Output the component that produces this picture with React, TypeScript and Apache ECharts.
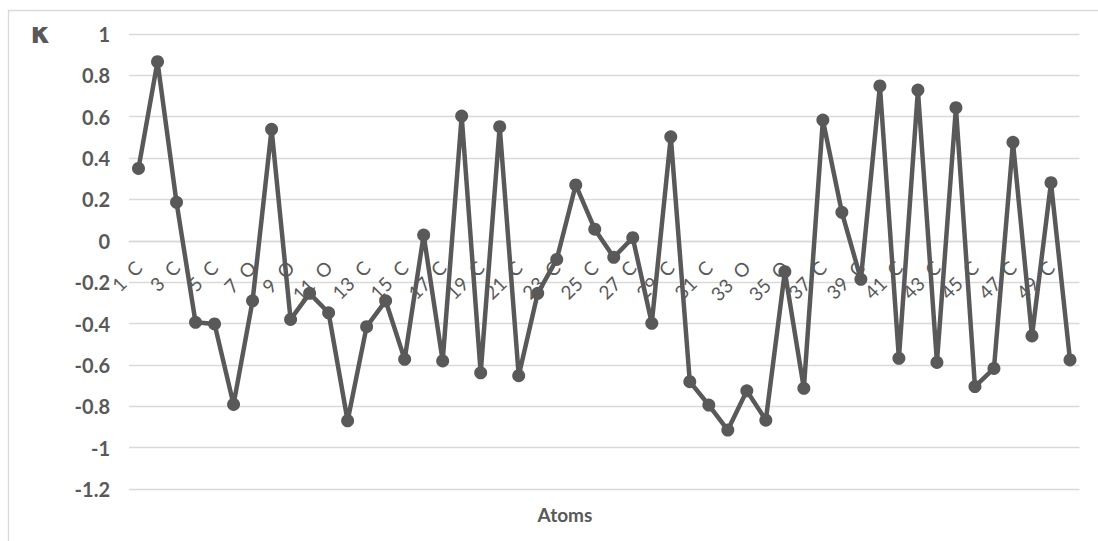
import React, { useEffect, useRef } from "react";
import * as echarts from "echarts";

const atomNumbers = [
  1, 2, 3, 4, 5, 6, 7, 8, 9, 10, 11, 12, 13, 14, 15, 16, 17, 18, 19, 20, 21, 22, 23, 24, 25,
  26, 27, 28, 29, 30, 31, 32, 33, 34, 35, 36, 37, 38, 39, 40, 41, 42, 43, 44, 45, 46, 47, 48, 49, 50,
];
// element symbols for the labelled (odd) atoms; even atoms are not labelled in the chart
const atomElements = [
  "C", "", "C", "", "C", "", "O", "", "O", "", "O", "", "C", "", "C", "", "C", "", "C", "", "C", "", "C", "", "C",
  "", "C", "", "C", "", "C", "", "O", "", "O", "", "C", "", "C", "", "C", "", "C", "", "C", "", "C", "", "C", "",
];
const categories = atomNumbers.map((n, i) => (atomElements[i] ? `${n} ${atomElements[i]}` : `${n}`));

const kappaValues = [
  0.35, 0.866, 0.186, -0.394, -0.402, -0.791, -0.29, 0.539, -0.38, -0.254,
  -0.348, -0.87, -0.415, -0.29, -0.573, 0.028, -0.581, 0.603, -0.638, 0.552,
  -0.652, -0.254, -0.09, 0.27, 0.056, -0.08, 0.015, -0.399, 0.503, -0.681,
  -0.794, -0.915, -0.725, -0.867, -0.149, -0.713, 0.584, 0.138, -0.186, 0.749,
  -0.568, 0.729, -0.588, 0.644, -0.705, -0.617, 0.476, -0.46, 0.281, -0.576,
];

const yMin = -1.2;
const yMax = 1;
const yStep = 0.2;

const axisTitleY = "κ";
const axisTitleX = "Atoms";

export default function App() {
  const ref = useRef<HTMLDivElement>(null);
  useEffect(() => {
    if (!ref.current) return;
    const chart = echarts.init(ref.current, null, { renderer: "svg" });
    const textColor = "#595959";
    const gridColor = "#D9D9D9";
    chart.setOption({
      animation: false,
      backgroundColor: "#ffffff",
      grid: { left: 129, right: 18.5, top: 34, bottom: 52, containLabel: false },
      xAxis: {
        type: "category",
        data: categories,
        boundaryGap: true,
        axisLine: { show: true, onZero: true, lineStyle: { color: gridColor, width: 1.3 } },
        axisTick: { show: false },
        axisLabel: {
          interval: 1,
          rotate: 45,
          margin: -225,
          color: textColor,
          fontFamily: "Lato",
          fontSize: 19,
          hideOverlap: false,
          formatter: (v: string) => v.replace(" ", "  "),
        },
        splitLine: { show: false },
      },
      yAxis: {
        type: "value",
        min: yMin,
        max: yMax,
        interval: yStep,
        axisLine: { show: false },
        axisTick: { show: false },
        axisLabel: {
          color: textColor,
          fontFamily: "Lato",
          fontWeight: "bold",
          fontSize: 20,
          margin: 19,
          formatter: (v: number) => `${Math.round(v * 10) / 10}`,
        },
        splitLine: { show: true, lineStyle: { color: gridColor, width: 1.3 } },
      },
      graphic: [
        {
          type: "rect",
          shape: { x: 8.5, y: 10.5, width: 1200, height: 700 },
          style: { fill: "none", stroke: gridColor, lineWidth: 1.3 },
          silent: true,
          z: -10,
        },
        {
          type: "text",
          x: 40.5,
          y: 33,
          style: {
            text: axisTitleY,
            fill: textColor,
            font: "bold 28px 'DejaVu Sans'",
            align: "center",
            verticalAlign: "middle",
          },
        },
        {
          type: "text",
          x: 565,
          y: 514,
          style: {
            text: axisTitleX,
            fill: textColor,
            font: "bold 19px Lato",
            align: "center",
            verticalAlign: "middle",
          },
        },
      ],
      series: [
        {
          type: "line",
          data: kappaValues,
          symbol: "circle",
          symbolSize: 13,
          showSymbol: true,
          showAllSymbol: true,
          lineStyle: { color: "#595959", width: 4.5 },
          itemStyle: { color: "#595959" },
          z: 3,
        },
      ],
    });
    return () => chart.dispose();
  }, []);
  return (
    <div
      ref={ref}
      style={{ position: "absolute", left: 0, top: 0, width: 1098, height: 541 }}
    />
  );
}
